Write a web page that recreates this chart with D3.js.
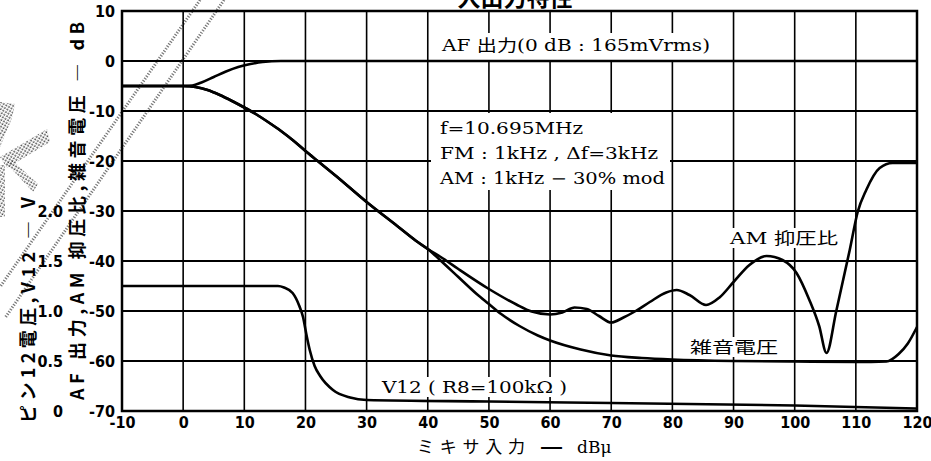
<!DOCTYPE html>
<html>
<head>
<meta charset="utf-8">
<script src="https://cdn.jsdelivr.net/npm/d3@7"></script>
<style>
	body { margin: 0; background: #fff; }
	svg { display: block; }
</style>
</head>
<body>
<svg id="chart" width="931" height="461"></svg>
<script>
// tick values
const xTicks = [-10, 0, 10, 20, 30, 40, 50, 60, 70, 80, 90, 100, 110, 120];
const dbTicks = [10, 0, -10, -20, -30, -40, -50, -60, -70];
const vTicks = [0, 0.5, 1.0, 1.5, 2.0];

// AF output, dB  [mixer input dBμ, dB]
const afOut = [[-10, -5], [0, -5], [1.5, -4.9], [3, -4.3], [5, -3.2], [7, -2.1], [9, -1.2],
	[11, -0.6], [13, -0.2], [16, 0], [120, 0]];

// AM rejection, dB
const amRej = [[-10, -5], [0, -5], [2, -5.2], [4, -5.8], [6, -6.8], [8, -8], [10, -9.3], [12, -10.7],
	[14, -12.3], [16, -14], [18, -15.9], [20, -18], [22, -20], [25, -23], [30, -28.2], [35, -33],
	[38, -35.9], [40, -37.6], [42.5, -39.5], [45, -41.6], [50, -45.6], [54.5, -48.7], [57, -50.1],
	[60, -50.7], [62, -50.3], [64, -49.3], [66, -49.6], [68, -51], [70, -52.3], [72, -51.3],
	[74, -50], [76.3, -48.2], [79, -46.3], [80.7, -45.8], [82.8, -46.8], [85.5, -48.8],
	[87.7, -47.3], [90, -44.2], [92.6, -40.8], [95.4, -39], [98, -39.8], [100.3, -42.4],
	[102.4, -47.8], [104, -53], [105.2, -58.4], [106.8, -50], [109, -37.8], [110.3, -30.2],
	[111.7, -25.8], [113.9, -21.4], [116, -20.4], [120, -20.4]];

// noise voltage, dB
const noise = [[-10, -5], [0, -5], [2, -5.2], [4, -5.8], [6, -6.8], [8, -8], [10, -9.3], [12, -10.7],
	[14, -12.3], [16, -14], [18, -15.9], [20, -18], [22, -20], [25, -23], [30, -28.2], [35, -33],
	[38, -35.9], [40, -37.6], [42, -39.8], [45, -43.2], [48, -46.6], [50, -48.6], [52, -50.6],
	[55, -53], [58, -54.9], [60, -55.9], [65, -57.7], [70, -58.9], [75, -59.4], [80, -59.7],
	[90, -60], [100, -60.1], [110, -60.2], [115, -60.1], [117, -58.6], [118.5, -56.5], [120, -53.2]];

// pin 12 voltage V12, volts
const v12 = [[-10, 1.25], [15.5, 1.25], [16.5, 1.235], [17.9, 1.18], [19, 1.05], [19.6, 0.94],
	[20.2, 0.75], [20.7, 0.61], [21.5, 0.45], [22.4, 0.35], [24.5, 0.21], [27.3, 0.135],
	[30, 0.11], [50, 0.095], [70, 0.08], [100, 0.055], [120, 0.025]];

const svg = d3.select('#chart');

const x = d3.scaleLinear().domain([-10, 120]).range([122, 917]);
const y = d3.scaleLinear().domain([-70, 10]).range([411, 11]);
const v = d3.scaleLinear().domain([0, 4]).range([411, 11]);

const tickFont = "'Liberation Sans Narrow', 'DejaVu Sans Condensed', sans-serif";
const serifFont = "'DejaVu Serif', 'Noto Sans CJK JP', serif";
const cjkFont = "'Noto Sans CJK JP', sans-serif";

// stippled stamp in the corner (scan artefact)
const defs = svg.append('defs');
defs.append('pattern')
	.attr('id', 'dots')
	.attr('width', 3).attr('height', 3)
	.attr('patternUnits', 'userSpaceOnUse')
	.attr('patternTransform', 'rotate(30)')
	.append('circle')
	.attr('cx', 1.2).attr('cy', 1.2).attr('r', 0.9)
	.attr('fill', '#444');

const stamp = [
	[[0, 102], [15, 104], [12, 118], [0, 147]],
	[[0, 157], [47, 129], [50, 142], [7, 168]],
	[[6, 163], [12, 160], [38, 184], [33, 192]],
	[[0, 165], [5, 165], [5, 217], [0, 217]]
];
svg.append('g').selectAll('path')
	.data(stamp)
	.join('path')
	.attr('d', d => 'M' + d.join('L') + 'Z')
	.attr('fill', 'url(#dots)');

svg.append('g')
	.attr('stroke', '#777')
	.attr('stroke-width', 3)
	.attr('stroke-dasharray', '1.2,1.6')
	.selectAll('line')
	.data([[200, 0, 0, 287], [224, 0, 5, 318]])
	.join('line')
	.attr('x1', d => d[0]).attr('y1', d => d[1])
	.attr('x2', d => d[2]).attr('y2', d => d[3]);

// grid
const grid = svg.append('g').attr('stroke', '#000');
grid.selectAll('.vx')
	.data(xTicks)
	.join('line')
	.attr('stroke-width', 1.6)
	.attr('x1', d => x(d)).attr('x2', d => x(d))
	.attr('y1', y(10)).attr('y2', y(-70));
grid.selectAll('.hy')
	.data(dbTicks)
	.join('line')
	.attr('stroke-width', 2.2)
	.attr('x1', x(-10)).attr('x2', x(120))
	.attr('y1', d => y(d)).attr('y2', d => y(d));

svg.append('rect')
	.attr('x', x(-10)).attr('y', y(10))
	.attr('width', x(120) - x(-10)).attr('height', y(-70) - y(10))
	.attr('fill', 'none').attr('stroke', '#000').attr('stroke-width', 2.5);

// white boxes behind texts
const boxes = [[431, 33, 285, 27], [431, 113, 239, 77], [727, 228, 114, 20], [687, 337, 94, 20], [378, 377, 193, 20]];
svg.append('g').selectAll('rect')
	.data(boxes)
	.join('rect')
	.attr('x', d => d[0]).attr('y', d => d[1])
	.attr('width', d => d[2]).attr('height', d => d[3])
	.attr('fill', '#fff');

// curves
const lineDb = d3.line().x(d => x(d[0])).y(d => y(d[1])).curve(d3.curveMonotoneX);
const lineV = d3.line().x(d => x(d[0])).y(d => v(d[1])).curve(d3.curveMonotoneX);

const curves = svg.append('g')
	.attr('fill', 'none').attr('stroke', '#000')
	.attr('stroke-width', 2.6).attr('stroke-linejoin', 'round');
curves.append('path').attr('d', lineDb(afOut));
curves.append('path').attr('d', lineDb(amRej));
curves.append('path').attr('d', lineDb(noise));
curves.append('path').attr('d', lineV(v12));

// axes
const fmt = d => String(d);
const xAxis = svg.append('g')
	.attr('transform', `translate(0,${y(-70)})`)
	.call(d3.axisBottom(x).tickValues(xTicks).tickFormat(fmt).tickSize(0).tickPadding(6));
const yAxis = svg.append('g')
	.attr('transform', `translate(${x(-10) - 7},0)`)
	.call(d3.axisLeft(y).tickValues(dbTicks).tickFormat(fmt).tickSize(0).tickPadding(0));
const vAxis = svg.append('g')
	.attr('transform', 'translate(63,0)')
	.call(d3.axisLeft(v).tickValues(vTicks).tickSize(0).tickPadding(0)
		.tickFormat(d => d === 0 ? '0' : d.toFixed(1)));

[xAxis, yAxis, vAxis].forEach(a => {
	a.select('.domain').remove();
	a.selectAll('text')
		.attr('font-family', tickFont)
		.attr('font-weight', 'bold')
		.attr('font-size', 16)
		.attr('fill', '#000');
});

// axis titles
svg.append('text')
	.attr('transform', 'translate(84,211) rotate(-90)')
	.attr('text-anchor', 'middle')
	.attr('font-family', cjkFont).attr('font-weight', 'bold').attr('font-size', 18)
	.attr('textLength', 378).attr('lengthAdjust', 'spacing')
	.text('AF 出力,AM 抑圧比,雑音電圧 ― dB');

svg.append('text')
	.attr('transform', 'translate(35,310) rotate(-90)')
	.attr('text-anchor', 'middle')
	.attr('font-family', cjkFont).attr('font-weight', 'bold').attr('font-size', 18)
	.attr('textLength', 226).attr('lengthAdjust', 'spacing')
	.text('ピン12電圧,V12 ― V');

const xTitle = svg.append('g')
	.attr('font-family', serifFont).attr('font-size', 17);
xTitle.append('text')
	.attr('x', 417).attr('y', 453)
	.attr('textLength', 108).attr('lengthAdjust', 'spacing')
	.text('ミキサ入力');
xTitle.append('text')
	.attr('x', 541).attr('y', 453)
	.attr('textLength', 21).attr('lengthAdjust', 'spacingAndGlyphs')
	.attr('font-weight', 'bold')
	.text('―');
xTitle.append('text')
	.attr('x', 577).attr('y', 453)
	.text('dBμ');

svg.append('text')
	.attr('x', 515).attr('y', 6)
	.attr('text-anchor', 'middle')
	.attr('font-family', cjkFont).attr('font-weight', 'bold').attr('font-size', 23)
	.text('入出力特性');

// labels inside the plot
const labels = [
	['AF 出力(0 dB : 165mVrms)', 442, 51, 268],
	['f=10.695MHz', 440, 134, 143],
	['FM : 1kHz , Δf=3kHz', 440, 159, 218],
	['AM : 1kHz − 30% mod', 440, 184, 225],
	['AM 抑圧比', 730, 244, 108],
	['雑音電圧', 690, 353, 88],
	['V12 ( R8=100kΩ )', 382, 393, 185]
];
svg.append('g').selectAll('text')
	.data(labels)
	.join('text')
	.attr('x', d => d[1]).attr('y', d => d[2])
	.attr('textLength', d => d[3]).attr('lengthAdjust', 'spacingAndGlyphs')
	.attr('font-family', serifFont).attr('font-size', 16)
	.attr('fill', '#000')
	.text(d => d[0]);
</script>
</body>
</html>
